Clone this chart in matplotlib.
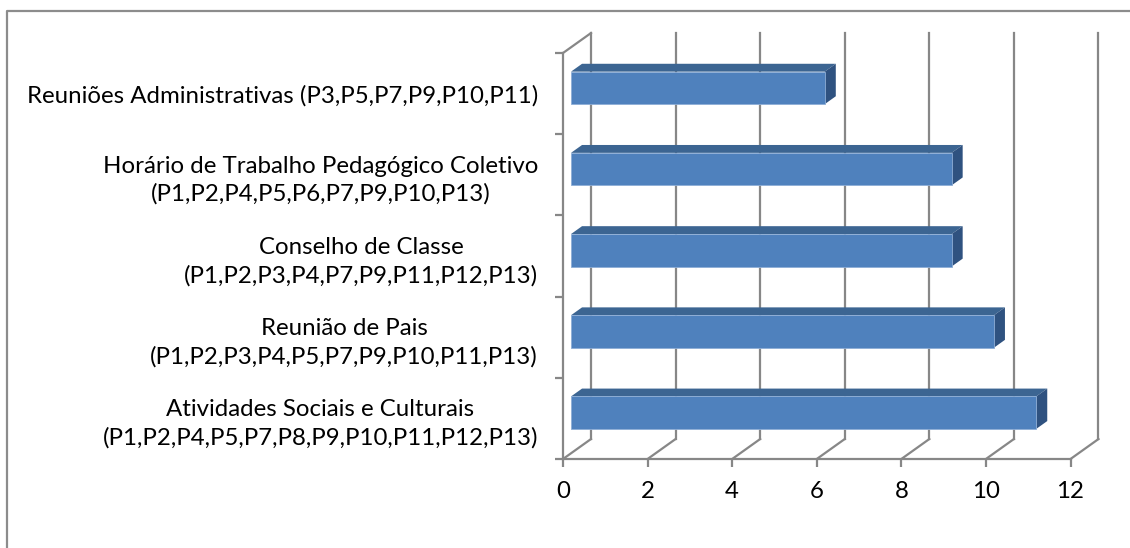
import matplotlib
matplotlib.use("Agg")
import matplotlib.pyplot as plt
from matplotlib.patches import Polygon, Rectangle
from matplotlib.lines import Line2D

matplotlib.rcParams["font.family"] = ["Lato", "DejaVu Sans"]

categories = [
    "Atividades Sociais e Culturais\n(P1,P2,P4,P5,P7,P8,P9,P10,P11,P12,P13)",
    "Reunião de Pais\n(P1,P2,P3,P4,P5,P7,P9,P10,P11,P13)",
    "Conselho de Classe\n(P1,P2,P3,P4,P7,P9,P11,P12,P13)",
    "Horário de Trabalho Pedagógico Coletivo\n(P1,P2,P4,P5,P6,P7,P9,P10,P13)",
    "Reuniões Administrativas (P3,P5,P7,P9,P10,P11)",
]
values = [11, 10, 9, 9, 6]
xticks = [0, 2, 4, 6, 8, 10, 12]

grid_color = "#878787"
front_color = "#4F81BD"
top_color = "#3C6592"
side_color = "#2F5280"

# depth of the fake 3d box, in data units
DX = 0.662
DY = 0.246
bar_h = 0.40
f0, f1 = 0.286, 0.68

fig = plt.figure(figsize=(11.3, 5.48), dpi=100)
ax = fig.add_axes([563 / 1130, 1 - 459 / 548, 507.5 / 1130, 406 / 548])
ax.set_xlim(0, 12)
ax.set_ylim(-0.5, 4.5)

for s in ["top", "right"]:
    ax.spines[s].set_visible(False)
for s in ["left", "bottom"]:
    ax.spines[s].set_color(grid_color)
    ax.spines[s].set_linewidth(1.6)

ax.set_xticks(xticks)
ax.set_xticklabels([str(t) for t in xticks], fontsize=17.3)
ax.set_yticks(range(len(categories)))
ax.set_yticklabels(categories, fontsize=17.3, linespacing=1.4,
                   multialignment="center")
ax.set_yticks([i - 0.5 for i in range(len(categories) + 1)], minor=True)
ax.tick_params(axis="y", which="major", length=0, pad=18)
ax.tick_params(axis="y", which="minor", length=6, width=1.6, color=grid_color)
ax.tick_params(axis="x", length=5.5, width=1.6, color=grid_color, pad=10)

# back wall gridlines and floor diagonals
for t in xticks:
    ax.plot([t + DX, t + DX], [-0.5 + DY, 4.5 + DY], color=grid_color,
            lw=1.6, clip_on=False, zorder=1)
    ax.plot([t, t + DX], [-0.5, -0.5 + DY], color=grid_color,
            lw=1.6, clip_on=False, zorder=1)
ax.plot([0, DX], [4.5, 4.5 + DY], color=grid_color, lw=1.6, clip_on=False,
        zorder=1)

# bars with a little depth
for i, v in enumerate(values):
    ox, oy = f0 * DX, i + f0 * DY
    bx, by = f1 * DX, i + f1 * DY
    top = Polygon([(ox, oy + bar_h / 2), (ox + v, oy + bar_h / 2),
                   (bx + v, by + bar_h / 2), (bx, by + bar_h / 2)],
                  closed=True, facecolor=top_color, edgecolor="none",
                  clip_on=False, zorder=3)
    side = Polygon([(ox + v, oy - bar_h / 2), (ox + v, oy + bar_h / 2),
                    (bx + v, by + bar_h / 2), (bx + v, by - bar_h / 2)],
                   closed=True, facecolor=side_color, edgecolor="none",
                   clip_on=False, zorder=3)
    front = Rectangle((ox, oy - bar_h / 2), v, bar_h, facecolor=front_color,
                      edgecolor="#8EAED6", lw=0.6, clip_on=False, zorder=4)
    ax.add_patch(top)
    ax.add_patch(side)
    ax.add_patch(front)

# chart area border (bottom and right edges fall outside the picture)
fig.add_artist(Line2D([7 / 1130, 7 / 1130, 1.01], [-0.01, 1 - 11 / 548, 1 - 11 / 548],
                      transform=fig.transFigure, color="#8C8C8C", lw=1.6))

fig.savefig("out.png", dpi=100)
